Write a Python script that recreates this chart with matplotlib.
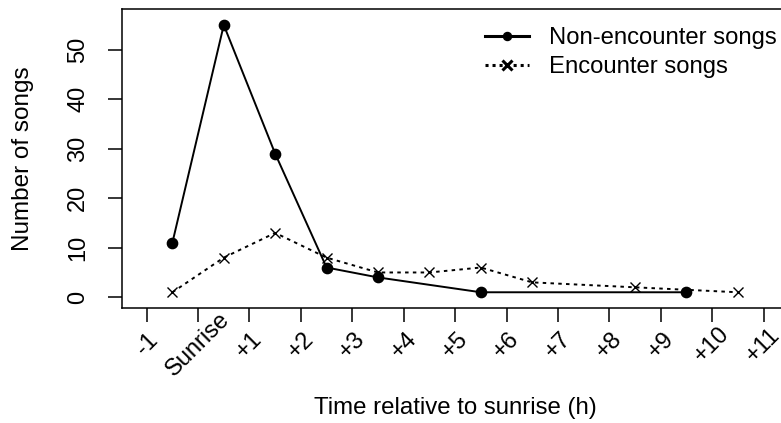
import matplotlib
matplotlib.use("Agg")
import matplotlib.pyplot as plt
from matplotlib.lines import Line2D

plt.rcParams['font.family'] = ['Liberation Sans', 'DejaVu Sans']

# Data
non_enc_hours = [-0.5, 0.5, 1.5, 2.5, 3.5, 5.5, 9.5]
non_enc_counts = [11, 55, 29, 6, 4, 1, 1]
enc_hours = [-0.5, 0.5, 1.5, 2.5, 3.5, 4.5, 5.5, 6.5, 8.5, 10.5]
enc_counts = [1, 8, 13, 8, 5, 5, 6, 3, 2, 1]
xtick_pos = list(range(-1, 12))
xtick_labels = ['-1', 'Sunrise', '+1', '+2', '+3', '+4', '+5', '+6', '+7',
                '+8', '+9', '+10', '+11']
ytick_pos = [0, 10, 20, 30, 40, 50]
series_labels = ['Non-encounter songs', 'Encounter songs']

W, H = 781, 423
fig = plt.figure(figsize=(W / 100, H / 100), dpi=100)
left, right, top, bottom = 122, 788.2, 9, 308.3
ax = fig.add_axes([left / W, 1 - bottom / H, (right - left) / W, (bottom - top) / H])

ax.plot(non_enc_hours, non_enc_counts, color='black', lw=1.4, marker='o',
        markersize=7.4, linestyle='-')
ax.plot(enc_hours, enc_counts, color='black', lw=1.4, marker='x',
        markersize=7.5, mew=1.0, linestyle=(0, (1.8, 2.2)))

ax.set_xlim(-1.48, 11.48)
ax.set_ylim(-2.24, 58.24)

for s in ax.spines.values():
    s.set_linewidth(1.1)

ax.set_xticks(xtick_pos)
ax.set_xticklabels(xtick_labels, rotation=45, ha='center', va='center',
                   rotation_mode='anchor', fontsize=17)
ax.set_yticks(ytick_pos)
ax.set_yticklabels([str(v) for v in ytick_pos], rotation=90, ha='center',
                   va='center', fontsize=17)
ax.tick_params(axis='x', length=10, width=1.1, pad=16.3)
ax.tick_params(axis='y', length=10, width=1.1, pad=21.5)

ax.set_xlabel('Time relative to sunrise (h)', fontsize=17.3)
ax.xaxis.label.set_va('center')
ax.xaxis.set_label_coords(0.5, -(408 - bottom) / (bottom - top))
ax.set_ylabel('Number of songs', fontsize=17.5)
ax.yaxis.label.set_va('center')
ax.yaxis.set_label_coords(-(left - 23) / (right - left), 0.5)

handles = [
    Line2D([], [], color='black', lw=2.2, marker='o', markersize=5.8),
    Line2D([], [], color='black', lw=2.2, marker='x', markersize=6.5, mew=2.2,
           linestyle=(0, (1.0, 1.3))),
]
ax.legend(handles, series_labels, loc='upper left',
          bbox_to_anchor=(485 / W, 1 - 27.5 / H), bbox_transform=fig.transFigure,
          frameon=False, borderpad=0, borderaxespad=0, handlelength=1.86,
          handletextpad=0.8, labelspacing=0.29, fontsize=17.2)

fig.savefig('out.png', dpi=100)
